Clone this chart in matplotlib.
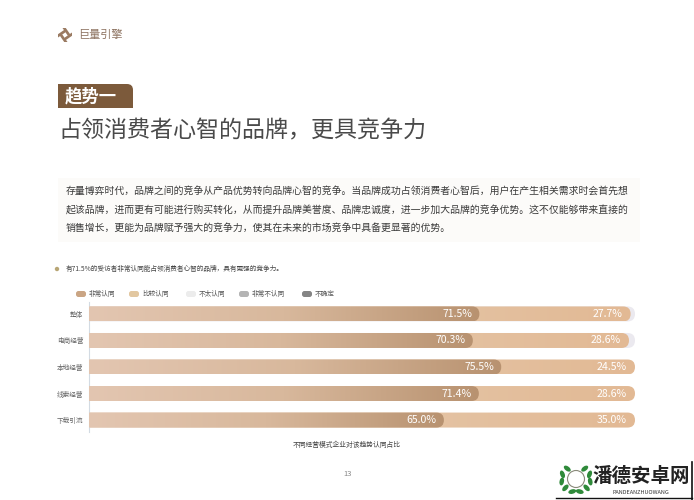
import matplotlib
matplotlib.use("Agg")
import matplotlib.pyplot as plt
import numpy as np
from matplotlib.patches import FancyBboxPatch, Rectangle, Circle, Ellipse, Polygon
from matplotlib.colors import LinearSegmentedColormap

plt.rcParams['font.family'] = ['Noto Sans CJK SC', 'DejaVu Sans']

# ---------------- data ----------------
categories = ["整体", "电商经营", "本地经营", "线索经营", "下载引流"]
very_agree = [71.5, 70.3, 75.5, 71.4, 65.0]
agree = [27.7, 28.6, 24.5, 28.6, 35.0]
not_really = [0.8, 1.1, 0.0, 0.0, 0.0]
legend_labels = ["非常认同", "比较认同", "不太认同", "非常不认同", "不确定"]
legend_colors = ["#caa584", "#e2c7a0", "#ececec", "#b4b4b4", "#858585"]

W, H = 694, 500
fig = plt.figure(figsize=(W / 100, H / 100), dpi=100)
fig.patch.set_facecolor("white")

def fx(x):
    return x / W

def fy(y):
    return 1 - y / H

# overlay axes in pixel coordinates for page decorations
pg = fig.add_axes([0, 0, 1, 1], zorder=0)
pg.set_xlim(0, W)
pg.set_ylim(H, 0)
pg.axis("off")

# ---------------- header logo ----------------
for ang in [0, 90, 180, 270]:
    t = np.deg2rad(ang)
    cx, cy = 65, 35
    pts = np.array([[-2.5, -7.0], [0.8, -7.0], [6.0, 0.5], [2.7, 0.5]])
    rot = np.array([[np.cos(t), -np.sin(t)], [np.sin(t), np.cos(t)]])
    p = pts @ rot.T + [cx, cy]
    pg.add_patch(Polygon(p, closed=True, facecolor="#9a7a62", edgecolor="none"))
pg.text(78, 35, "巨量引擎", fontsize=8, color="#8f7563", va="center", ha="left")

# ---------------- badge & title ----------------
badge = FancyBboxPatch((58, 84), 75, 24, boxstyle="round,pad=0,rounding_size=6",
                       facecolor="#7c5a3b", edgecolor="none")
pg.add_patch(badge)
pg.add_patch(Rectangle((58, 84), 20, 24, facecolor="#7c5a3b", edgecolor="none"))
pg.add_patch(Rectangle((58, 96), 75, 12, facecolor="#7c5a3b", edgecolor="none"))
pg.text(65, 96.5, "趋势一", fontsize=12.5, color="white", va="center", ha="left",
        fontweight="bold")
pg.text(58, 131, "占领消费者心智的品牌，更具竞争力", fontsize=16.6, color="#4a4a4a",
        va="center", ha="left")

# ---------------- paragraph ----------------
pg.add_patch(Rectangle((58, 178), 582, 64, facecolor="#fcfbf9", edgecolor="none"))
para = [
    "存量博弈时代，品牌之间的竞争从产品优势转向品牌心智的竞争。当品牌成功占领消费者心智后，用户在产生相关需求时会首先想",
    "起该品牌，进而更有可能进行购买转化，从而提升品牌美誉度、品牌忠诚度，进一步加大品牌的竞争优势。这不仅能够带来直接的",
    "销售增长，更能为品牌赋予强大的竞争力，使其在未来的市场竞争中具备更显著的优势。",
]
for i, line in enumerate(para):
    pg.text(66, 191 + i * 18.5, line, fontsize=7.1, color="#3a3a3a", va="center", ha="left")

pg.add_patch(Circle((57, 269), 2.2, facecolor="#b8a675", edgecolor="none"))
pg.text(66, 269, "有71.5%的受访者非常认同能占领消费者心智的品牌，具有更强的竞争力。",
        fontsize=4.8, color="#444444", va="center", ha="left")

# ---------------- legend ----------------
leg_x = [76, 129, 186, 239, 302]
for lx, lab, col in zip(leg_x, legend_labels, legend_colors):
    pg.add_patch(FancyBboxPatch((lx, 291), 10, 6, boxstyle="round,pad=0,rounding_size=2.5",
                                facecolor=col, edgecolor="none"))
    pg.text(lx + 13, 294, lab, fontsize=4.8, color="#555555", va="center", ha="left")

# ---------------- bar chart ----------------
ax_left, ax_right, ax_top, ax_bot = 89, 635, 302, 432
ax = fig.add_axes([fx(ax_left), fy(ax_bot), (ax_right - ax_left) / W, (ax_bot - ax_top) / H],
                  zorder=2)
ax.patch.set_alpha(0)
n = len(categories)
ymin, ymax = -0.45, n - 1 + 0.45
ax.set_xlim(0, 100)
ax.set_ylim(ymax, ymin)

xpx = (ax_right - ax_left) / 100.0
ypx = (ax_bot - ax_top) / (ymax - ymin)
aspect = xpx / ypx
bh = 15 / ypx
rad = 7.5 / xpx

cm1 = LinearSegmentedColormap.from_list("c1", ["#e3c6b1", "#d8b89c", "#b89270"])
cm2 = LinearSegmentedColormap.from_list("c2", ["#e8cfbb", "#e5c6a8", "#e2b994"])
grad = np.linspace(0, 1, 256).reshape(1, -1)

def pill(x0, x1, yc, color=None, cmap=None, z=1):
    p = FancyBboxPatch((x0 - 3, yc - bh / 2), (x1 - x0) + 3, bh,
                       boxstyle=f"round,pad=0,rounding_size={rad}",
                       mutation_aspect=aspect,
                       facecolor=color if color else "none", edgecolor="none", zorder=z)
    ax.add_patch(p)
    if cmap is not None:
        im = ax.imshow(grad, extent=[x0, x1, yc + bh / 2, yc - bh / 2], aspect="auto",
                       cmap=cmap, zorder=z, interpolation="bicubic")
        im.set_clip_path(p)
    return p

for i, cat in enumerate(categories):
    v1 = very_agree[i]
    v2 = v1 + agree[i]
    v3 = v2 + not_really[i]
    if not_really[i] > 0:
        pill(0, v3, i, color="#ebe9ef", z=1)
    pill(0, v2, i, cmap=cm2, z=2)
    pill(0, v1, i, cmap=cm1, z=3)
    ax.text(v1 - 1.3, i, f"{v1:.1f}%", color="white", fontsize=7.6, ha="right",
            va="center", zorder=5)
    ax.text(v2 - 1.5, i, f"{agree[i]:.1f}%", color="white", fontsize=7.6, ha="right",
            va="center", zorder=5)

ax.set_xlim(0, 100)
ax.set_ylim(ymax, ymin)
ax.set_yticks(range(n))
ax.set_yticklabels(categories, fontsize=4.8, color="#666666")
ax.tick_params(axis="y", length=0, pad=4)
ax.set_xticks([])
for s in ["top", "right", "bottom"]:
    ax.spines[s].set_visible(False)
ax.spines["left"].set_color("#d3dbe3")
ax.spines["left"].set_linewidth(0.8)

# caption & page number
pg.text(347, 445, "不同经营模式企业对该趋势认同占比", fontsize=4.9, color="#444444",
        va="center", ha="center")
pg.text(348, 474, "13", fontsize=5.5, color="#888888", va="center", ha="center")

# ---------------- watermark ----------------
pg.plot([692, 692], [462, 500], color="#111111", lw=1.2)
pg.plot([556, 692], [498, 498], color="#111111", lw=1.0)
wc = (576, 479)
for phi in list(range(105, 250, 32)) + list(range(75, -75, -32)):
    t = np.deg2rad(phi)
    ex, ey = wc[0] + 14.5 * np.cos(t), wc[1] + 13 * np.sin(t)
    pg.add_patch(Ellipse((ex, ey), 8, 4.5, angle=-(phi + 90),
                         facecolor="#2f8a3a", edgecolor="none"))
pg.add_patch(Circle(wc, 8.5, facecolor="white", edgecolor="#8a8a7a", lw=0.8))
pg.text(641, 476, "潘德安卓网", fontsize=14, color="#222222", va="center", ha="center",
        fontweight="bold")
pg.text(641, 492, "PANDEANZHUOWANG", fontsize=4, color="#333333", va="center",
        ha="center")

fig.savefig("out.png", dpi=100, facecolor="white")
